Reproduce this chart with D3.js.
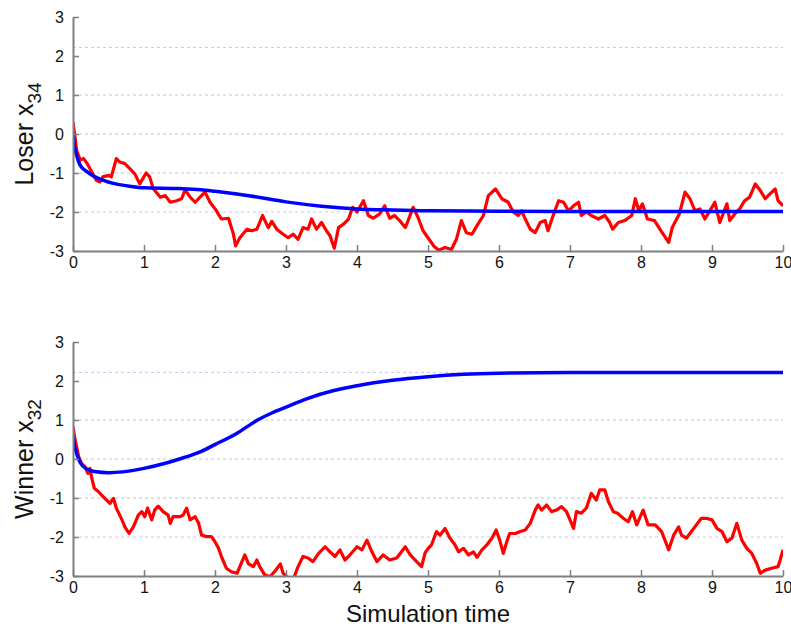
<!DOCTYPE html>
<html>
<head>
<meta charset="utf-8">
<script src="https://cdn.jsdelivr.net/npm/d3@7"></script>
<style>
  body { margin: 0; background: #fff; }
  text { font-family: "Liberation Sans", Arial, sans-serif; }
</style>
</head>
<body>
<script>
// simulation time ticks and value ticks
const xTicks = [0, 1, 2, 3, 4, 5, 6, 7, 8, 9, 10];
const yTicks = [-3, -2, -1, 0, 1, 2, 3];
const grayGrid = [1, 0, -1];
const blueGrid = [2.22, -2];

// loser x34: noisy trajectory [t, value]
const loserNoisy = [
  [0,0.3],[0.03,-0.1],[0.05,-0.41],[0.1,-0.67],[0.15,-0.63],[0.2,-0.76],[0.24,-0.89],[0.33,-1.19],[0.38,-1.23],
  [0.42,-1.1],[0.5,-1.06],[0.54,-1.1],[0.61,-0.63],[0.66,-0.72],[0.73,-0.76],[0.8,-0.89],[0.87,-1.02],
  [0.94,-1.28],[1.03,-1.0],[1.08,-1.1],[1.13,-1.4],[1.23,-1.62],[1.3,-1.58],[1.37,-1.75],[1.46,-1.71],
  [1.53,-1.66],[1.58,-1.43],[1.65,-1.62],[1.72,-1.75],[1.79,-1.62],[1.86,-1.49],[1.93,-1.75],[2.02,-1.97],
  [2.09,-2.18],[2.19,-2.16],[2.26,-2.57],[2.29,-2.87],[2.35,-2.66],[2.45,-2.44],[2.52,-2.48],[2.59,-2.44],
  [2.67,-2.09],[2.75,-2.4],[2.8,-2.24],[2.87,-2.44],[2.96,-2.57],[3.03,-2.66],[3.1,-2.57],[3.17,-2.7],
  [3.24,-2.4],[3.31,-2.44],[3.36,-2.18],[3.43,-2.44],[3.5,-2.27],[3.57,-2.48],[3.62,-2.61],[3.68,-2.93],
  [3.74,-2.4],[3.81,-2.31],[3.88,-2.18],[3.94,-1.88],[4.0,-2.0],[4.09,-1.71],[4.16,-2.09],[4.23,-2.16],
  [4.32,-2.05],[4.39,-1.84],[4.46,-2.16],[4.53,-2.09],[4.6,-2.22],[4.68,-2.4],[4.72,-2.22],[4.79,-1.88],
  [4.86,-2.14],[4.93,-2.48],[5.0,-2.66],[5.08,-2.87],[5.15,-2.98],[5.24,-2.91],[5.33,-2.96],[5.4,-2.7],
  [5.47,-2.22],[5.54,-2.53],[5.62,-2.57],[5.69,-2.35],[5.78,-2.09],[5.85,-1.58],[5.95,-1.41],[6.04,-1.66],
  [6.13,-1.75],[6.2,-2.0],[6.27,-2.09],[6.32,-1.97],[6.37,-2.18],[6.44,-2.44],[6.51,-2.53],[6.58,-2.27],
  [6.65,-2.22],[6.69,-2.48],[6.77,-2.05],[6.84,-1.71],[6.91,-1.75],[6.98,-1.97],[7.05,-1.84],[7.12,-1.75],
  [7.16,-2.09],[7.23,-2.0],[7.3,-2.09],[7.4,-2.18],[7.49,-2.09],[7.56,-2.27],[7.6,-2.44],[7.68,-2.27],
  [7.77,-2.22],[7.87,-2.09],[7.92,-1.66],[7.97,-1.97],[8.02,-1.79],[8.09,-2.18],[8.19,-2.22],[8.28,-2.48],
  [8.39,-2.78],[8.44,-2.4],[8.54,-2.05],[8.62,-1.49],[8.69,-1.66],[8.76,-1.97],[8.83,-1.92],[8.9,-2.18],
  [8.97,-1.97],[9.04,-1.75],[9.11,-2.27],[9.21,-1.79],[9.25,-2.22],[9.32,-2.05],[9.39,-1.92],[9.46,-1.71],
  [9.53,-1.62],[9.61,-1.28],[9.68,-1.45],[9.75,-1.66],[9.82,-1.53],[9.89,-1.41],[9.93,-1.71],[10.0,-1.84]
];
// loser x34: mean trajectory
const loserMean = [
  [0,0],[0.02,-0.3],[0.05,-0.54],[0.1,-0.8],[0.2,-0.97],[0.4,-1.17],[0.6,-1.28],[0.8,-1.34],[1,-1.38],
  [1.5,-1.4],[1.8,-1.43],[2,-1.47],[2.5,-1.59],[3,-1.74],[3.5,-1.85],[4,-1.92],[4.5,-1.95],[5,-1.97],
  [6,-1.98],[7,-1.99],[8,-1.99],[9,-1.99],[10,-1.99]
];

// winner x32: noisy trajectory
const winnerNoisy = [
  [0,0.83],[0.03,0.49],[0.08,0.06],[0.12,-0.11],[0.17,-0.2],[0.21,-0.37],[0.24,-0.24],[0.26,-0.45],
  [0.3,-0.75],[0.36,-0.84],[0.4,-0.92],[0.47,-1.05],[0.52,-1.14],[0.57,-1.01],[0.61,-1.26],[0.69,-1.56],
  [0.73,-1.74],[0.79,-1.91],[0.85,-1.74],[0.92,-1.44],[0.97,-1.35],[1.01,-1.48],[1.05,-1.26],[1.11,-1.56],
  [1.15,-1.31],[1.2,-1.21],[1.27,-1.35],[1.34,-1.44],[1.37,-1.65],[1.41,-1.48],[1.51,-1.48],[1.55,-1.44],
  [1.6,-1.26],[1.65,-1.56],[1.72,-1.48],[1.77,-1.65],[1.81,-1.95],[1.88,-1.99],[1.95,-1.99],[2.0,-2.12],
  [2.05,-2.29],[2.09,-2.5],[2.16,-2.8],[2.23,-2.89],[2.31,-2.93],[2.35,-2.76],[2.42,-2.46],[2.47,-2.68],
  [2.54,-2.76],[2.59,-2.59],[2.63,-2.76],[2.7,-2.97],[2.77,-3.02],[2.84,-2.89],[2.92,-2.69],[2.96,-2.93],
  [3.03,-3.05],[3.1,-3.1],[3.17,-2.76],[3.24,-2.5],[3.31,-2.54],[3.38,-2.63],[3.46,-2.42],[3.55,-2.25],
  [3.62,-2.38],[3.69,-2.5],[3.76,-2.33],[3.83,-2.59],[3.9,-2.46],[4.0,-2.25],[4.07,-2.33],[4.14,-2.08],
  [4.21,-2.38],[4.28,-2.63],[4.37,-2.46],[4.46,-2.59],[4.56,-2.54],[4.68,-2.25],[4.75,-2.46],[4.84,-2.63],
  [4.91,-2.76],[4.96,-2.4],[5.0,-2.3],[5.05,-2.2],[5.12,-1.86],[5.17,-1.95],[5.24,-1.78],[5.31,-2.03],
  [5.38,-2.2],[5.43,-2.38],[5.5,-2.29],[5.57,-2.46],[5.64,-2.38],[5.69,-2.52],[5.76,-2.33],[5.83,-2.2],
  [5.9,-2.03],[5.96,-1.82],[6.01,-2.08],[6.06,-2.42],[6.11,-2.12],[6.15,-1.91],[6.23,-1.91],[6.3,-1.86],
  [6.37,-1.82],[6.44,-1.65],[6.51,-1.31],[6.55,-1.18],[6.6,-1.31],[6.67,-1.18],[6.74,-1.35],[6.81,-1.31],
  [6.88,-1.22],[6.95,-1.35],[7.0,-1.56],[7.05,-1.78],[7.09,-1.35],[7.16,-1.39],[7.23,-1.26],[7.3,-0.88],
  [7.37,-1.05],[7.42,-0.79],[7.49,-0.79],[7.54,-1.09],[7.61,-1.35],[7.67,-1.39],[7.75,-1.52],[7.82,-1.61],
  [7.88,-1.35],[7.94,-1.69],[8.03,-1.31],[8.1,-1.69],[8.2,-1.69],[8.29,-1.86],[8.39,-2.33],[8.46,-1.95],
  [8.53,-1.74],[8.57,-1.95],[8.64,-2.03],[8.71,-1.86],[8.78,-1.69],[8.85,-1.52],[8.92,-1.52],[9.0,-1.56],
  [9.07,-1.78],[9.14,-1.86],[9.21,-2.12],[9.28,-2.03],[9.35,-1.65],[9.42,-2.08],[9.49,-2.29],[9.56,-2.42],
  [9.63,-2.68],[9.68,-2.93],[9.75,-2.85],[9.84,-2.8],[9.93,-2.76],[9.96,-2.59],[10.0,-2.33]
];
// winner x32: mean trajectory
const winnerMean = [
  [0,0.6],[0.02,0.35],[0.05,0.15],[0.1,-0.09],[0.2,-0.26],[0.3,-0.32],[0.5,-0.35],[0.7,-0.33],[1,-0.24],
  [1.3,-0.11],[1.5,0],[1.8,0.19],[2,0.37],[2.3,0.65],[2.6,1.0],[2.8,1.18],[3,1.33],[3.3,1.55],[3.66,1.75],
  [4,1.88],[4.5,2.02],[5,2.11],[5.5,2.17],[6,2.2],[7,2.22],[8,2.22],[9,2.22],[10,2.22]
];

const W = 791, H = 627;
const left = 73, plotW = 710, plotH = 234;
const panels = [
  { top: 17, label: "Loser x", sub: "34", noisy: loserNoisy, mean: loserMean },
  { top: 342, label: "Winner x", sub: "32", noisy: winnerNoisy, mean: winnerMean }
];

const svg = d3.select("body").append("svg")
  .attr("width", W)
  .attr("height", H);

const x = d3.scaleLinear().domain([0, 10]).range([0, plotW]);

panels.forEach((p, i) => {
  const y = d3.scaleLinear().domain([-3, 3]).range([plotH, 0]);
  const g = svg.append("g").attr("transform", `translate(${left},${p.top})`);

  g.append("clipPath").attr("id", "clip" + i)
    .append("rect").attr("x", 0).attr("y", 0).attr("width", plotW).attr("height", plotH);

  // grid lines
  g.selectAll(".gg").data(grayGrid).enter().append("line")
    .attr("x1", 0).attr("x2", plotW)
    .attr("y1", d => y(d)).attr("y2", d => y(d))
    .attr("stroke", "#c4c4c4").attr("stroke-width", 1)
    .attr("stroke-dasharray", "3,3");
  g.selectAll(".bg").data(blueGrid).enter().append("line")
    .attr("x1", 0).attr("x2", plotW)
    .attr("y1", d => y(d)).attr("y2", d => y(d))
    .attr("stroke", "#c6c6f4").attr("stroke-width", 1)
    .attr("stroke-dasharray", "3,3");

  const line = d3.line().x(d => x(d[0])).y(d => y(d[1]));

  const lines = g.append("g").attr("clip-path", `url(#clip${i})`);
  lines.append("path").datum(p.noisy)
    .attr("d", line).attr("fill", "none")
    .attr("stroke", "#ff0000").attr("stroke-width", 3.2)
    .attr("stroke-linejoin", "round");
  lines.append("path").datum(p.mean)
    .attr("d", line.curve(d3.curveMonotoneX)).attr("fill", "none")
    .attr("stroke", "#0000ff").attr("stroke-width", 3.5);

  // axes, ticks pointing inward
  const xAxis = g.append("g").attr("transform", `translate(0,${plotH})`)
    .call(d3.axisBottom(x).tickValues(xTicks).tickFormat(d => String(d))
      .tickSizeInner(-6).tickSizeOuter(0).tickPadding(6));
  const yAxis = g.append("g")
    .call(d3.axisLeft(y).tickValues(yTicks).tickFormat(d => String(d))
      .tickSizeInner(-6).tickSizeOuter(0).tickPadding(9));

  [xAxis, yAxis].forEach(a => {
    a.select(".domain").attr("stroke", "#7f7f7f").attr("stroke-width", 2);
    a.selectAll(".tick line").attr("stroke", "#7f7f7f").attr("stroke-width", 1.5);
    a.selectAll(".tick text")
      .attr("font-family", "Liberation Sans, Arial, sans-serif")
      .attr("font-size", "16px").attr("fill", "#111");
  });

  // y label with subscript
  const lbl = svg.append("text")
    .attr("transform", `translate(33,${p.top + plotH / 2}) rotate(-90)`)
    .attr("text-anchor", "middle")
    .attr("font-size", "25px").attr("fill", "#111");
  lbl.append("tspan").text(p.label);
  lbl.append("tspan").attr("dy", 8).attr("font-size", "19px").text(p.sub);
});

svg.append("text")
  .attr("x", left + plotW / 2)
  .attr("y", 622)
  .attr("text-anchor", "middle")
  .attr("font-size", "24px").attr("fill", "#111")
  .text("Simulation time");
</script>
</body>
</html>
